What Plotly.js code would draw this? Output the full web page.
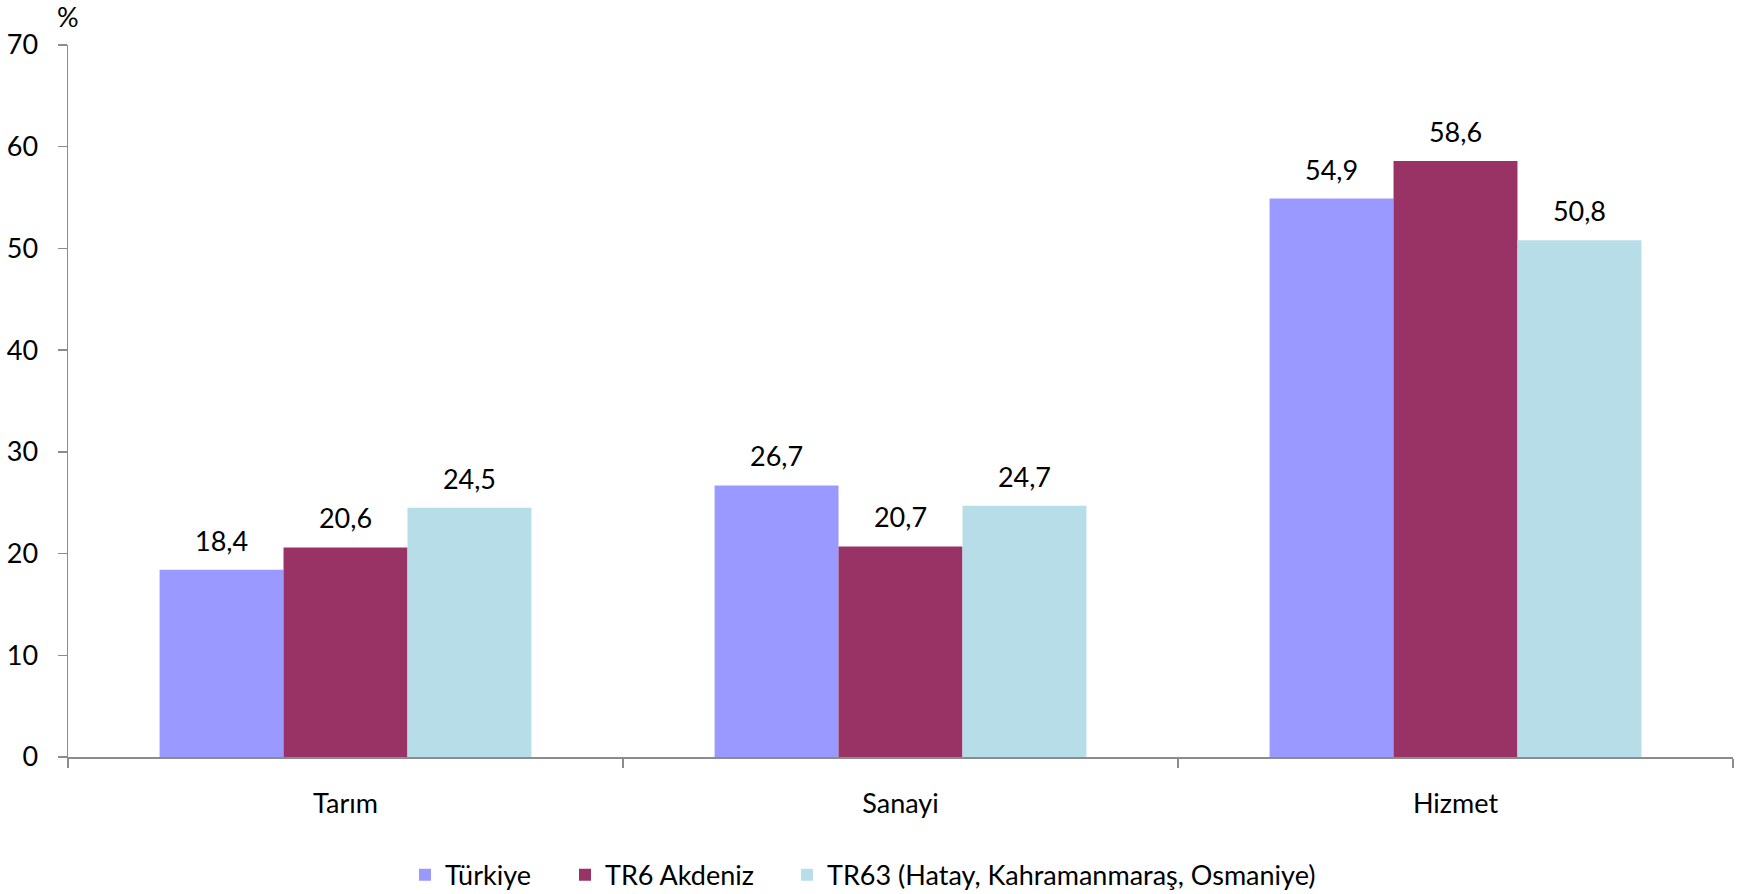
<!DOCTYPE html>
<html>
<head>
<meta charset="utf-8">
<script src="https://cdn.plot.ly/plotly-3.0.1.min.js"></script>
<style>
  html, body { margin: 0; padding: 0; background: #fff; }
  #grafik { width: 1740px; height: 894px; }
</style>
</head>
<body>
<div id="grafik"></div>
<script>
// Sektörlere göre istihdam (%)
const sektorler = ['Tarım', 'Sanayi', 'Hizmet'];
const turkiye = [18.4, 26.7, 54.9];
const tr6 = [20.6, 20.7, 58.6];
const tr63 = [24.5, 24.7, 50.8];

const seriAdlari = ['Türkiye', 'TR6 Akdeniz', 'TR63 (Hatay, Kahramanmaraş, Osmaniye)'];
const renkler = ['#9999FF', '#993366', '#B7DEE8'];
const seriler = [turkiye, tr6, tr63];
const lejantlar = ['legend', 'legend2', 'legend3'];

const yaziTipi = 'Lato, "Open Sans", sans-serif';
const yaziBoyu = 27;

// çubuklar
const cubuklar = seriler.map((degerler, i) => ({
    type: 'bar',
    x: sektorler,
    y: degerler,
    name: seriAdlari[i],
    legend: lejantlar[i],
    marker: { color: renkler[i], line: { width: 0 } },
    hoverinfo: 'skip',
}));

// değer etiketleri (çubukların üstünde)
const etiketler = seriler.map((degerler, i) => ({
    type: 'scatter',
    mode: 'markers+text',
    x: sektorler,
    y: degerler,
    text: degerler.map(v => v.toFixed(1).replace('.', ',')),
    textposition: 'top center',
    textfont: { family: yaziTipi, size: yaziBoyu, color: '#000' },
    marker: { size: 18, opacity: 0 },
    cliponaxis: false,
    showlegend: false,
    hoverinfo: 'skip',
}));

// her seri için ayrı lejant (aralıkları ayarlamak için)
const lejantAyar = (x) => ({
    orientation: 'h',
    x: x,
    xanchor: 'left',
    y: -0.166,
    yanchor: 'middle',
    bgcolor: 'rgba(0,0,0,0)',
    font: { family: yaziTipi, size: yaziBoyu, color: '#000' },
});

const layout = {
    width: 1740,
    height: 894,
    margin: { l: 68, r: 7, t: 45, b: 137, autoexpand: false },
    paper_bgcolor: '#fff',
    plot_bgcolor: '#fff',
    font: { family: yaziTipi, size: yaziBoyu, color: '#000' },
    barmode: 'group',
    bargap: 0.33,
    bargroupgap: 0,
    scattermode: 'group',
    scattergap: 0.33,
    showlegend: true,
    legend: lejantAyar(0.2024),
    legend2: lejantAyar(0.2985),
    legend3: lejantAyar(0.4318),
    xaxis: {
        type: 'category',
        showline: true,
        linecolor: '#8c8c8c',
        linewidth: 1.5,
        ticks: 'outside',
        tickson: 'boundaries',
        ticklen: 9,
        tickcolor: '#8c8c8c',
        tickwidth: 1.5,
        ticklabelstandoff: 22,
        showgrid: false,
        zeroline: false,
        fixedrange: true,
    },
    yaxis: {
        range: [0, 70],
        dtick: 10,
        showline: true,
        linecolor: '#8c8c8c',
        linewidth: 1.5,
        ticks: 'outside',
        ticklen: 9,
        tickcolor: '#8c8c8c',
        tickwidth: 1.5,
        ticklabelstandoff: 14,
        showgrid: false,
        zeroline: false,
        fixedrange: true,
    },
    annotations: [{
        text: '%',
        xref: 'paper', yref: 'paper',
        x: 0, y: 1,
        xanchor: 'center', yanchor: 'middle',
        yshift: 29,
        showarrow: false,
        font: { family: yaziTipi, size: yaziBoyu, color: '#000' },
    }],
};

Plotly.newPlot('grafik', [...cubuklar, ...etiketler], layout, { displayModeBar: false, staticPlot: true });
</script>
</body>
</html>
